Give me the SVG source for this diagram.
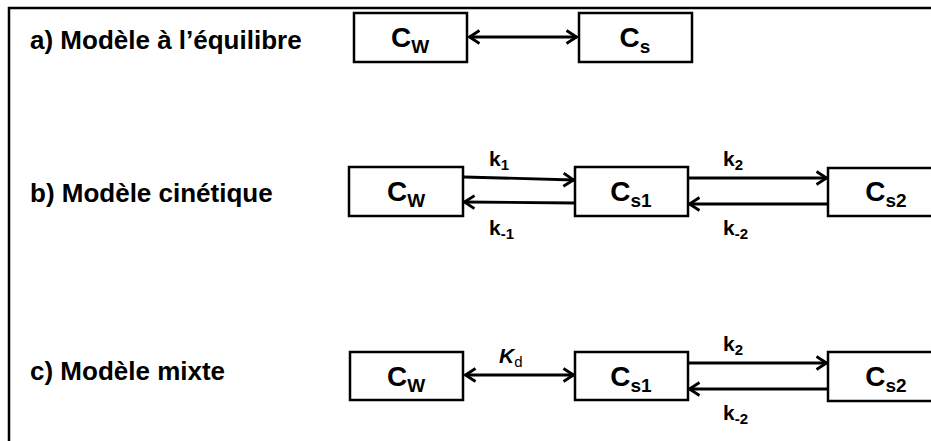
<svg xmlns="http://www.w3.org/2000/svg" width="931" height="441" viewBox="0 0 931 441">
<style>
.box{fill:#fff;stroke:#000;stroke-width:2.5}
.lbl{font-family:"Liberation Sans",Arial,sans-serif;font-weight:bold;fill:#000}
.ttl{font-size:26px}
.cn{font-size:28px;text-anchor:middle}
.k{font-size:21px}
.sub{font-size:19px}
.ksub{font-size:15px}
.conn line{stroke:#000;stroke-width:2.8}
</style>
<defs>
<marker id="ah" viewBox="0 0 13 16" refX="12" refY="8" markerWidth="13" markerHeight="16" markerUnits="userSpaceOnUse" orient="auto-start-reverse">
<path d="M1.5,1.5 L11.5,8 L1.5,14.5" fill="none" stroke="#000" stroke-width="2.8"/>
</marker>
</defs>
<rect width="931" height="441" fill="#fff"/>
<path d="M9,441 V8 H931" fill="none" stroke="#000" stroke-width="2.5"/>

<text class="lbl ttl" x="30" y="49">a) Modèle à l’équilibre</text>
<text class="lbl ttl" x="30" y="202">b) Modèle cinétique</text>
<text class="lbl ttl" x="30" y="380">c) Modèle mixte</text>

<g id="a-cw"><rect class="box" x="354" y="13" width="113" height="49"/><text class="lbl cn" x="410" y="47">C<tspan class="sub" dy="6">W</tspan></text></g>
<g id="a-cs"><rect class="box" x="579" y="13" width="113" height="49"/><text class="lbl cn" x="635" y="47">C<tspan class="sub" dy="6">s</tspan></text></g>

<g id="b-cw"><rect class="box" x="349" y="167" width="114" height="49"/><text class="lbl cn" x="406" y="201">C<tspan class="sub" dy="6">W</tspan></text></g>
<g id="b-cs1"><rect class="box" x="575" y="167" width="113" height="49"/><text class="lbl cn" x="631" y="201">C<tspan class="sub" dy="6">s1</tspan></text></g>
<g id="b-cs2"><rect class="box" x="828" y="168" width="113" height="48"/><text class="lbl cn" x="886" y="201">C<tspan class="sub" dy="6">s2</tspan></text></g>

<g id="c-cw"><rect class="box" x="350" y="352" width="113" height="48"/><text class="lbl cn" x="406" y="386">C<tspan class="sub" dy="6">W</tspan></text></g>
<g id="c-cs1"><rect class="box" x="575" y="352" width="113" height="48"/><text class="lbl cn" x="631" y="386">C<tspan class="sub" dy="6">s1</tspan></text></g>
<g id="c-cs2"><rect class="box" x="828" y="352" width="113" height="49"/><text class="lbl cn" x="886" y="386">C<tspan class="sub" dy="6">s2</tspan></text></g>

<g class="conn">
<line x1="469" y1="37" x2="577" y2="37" marker-start="url(#ah)" marker-end="url(#ah)"/>
<line x1="464" y1="177" x2="574" y2="180" marker-end="url(#ah)"/>
<line x1="574" y1="203" x2="464" y2="202" marker-end="url(#ah)"/>
<line x1="689" y1="178" x2="827" y2="178" marker-end="url(#ah)"/>
<line x1="827" y1="204" x2="689" y2="204" marker-end="url(#ah)"/>
<line x1="465" y1="375" x2="574" y2="375" marker-start="url(#ah)" marker-end="url(#ah)"/>
<line x1="689" y1="363" x2="827" y2="363" marker-end="url(#ah)"/>
<line x1="827" y1="389" x2="689" y2="389" marker-end="url(#ah)"/>
</g>

<g class="lbl">
<text class="k" x="489" y="166">k<tspan class="ksub" dy="4">1</tspan></text>
<text class="k" x="489" y="235">k<tspan class="ksub" dy="4">-1</tspan></text>
<text class="k" x="723" y="166">k<tspan class="ksub" dy="4">2</tspan></text>
<text class="k" x="723" y="235">k<tspan class="ksub" dy="4">-2</tspan></text>
<text class="k" x="499" y="363" font-style="italic">K<tspan class="ksub" dy="4" font-style="normal" font-weight="normal">d</tspan></text>
<text class="k" x="723" y="351">k<tspan class="ksub" dy="4">2</tspan></text>
<text class="k" x="723" y="420">k<tspan class="ksub" dy="4">-2</tspan></text>
</g>
</svg>
